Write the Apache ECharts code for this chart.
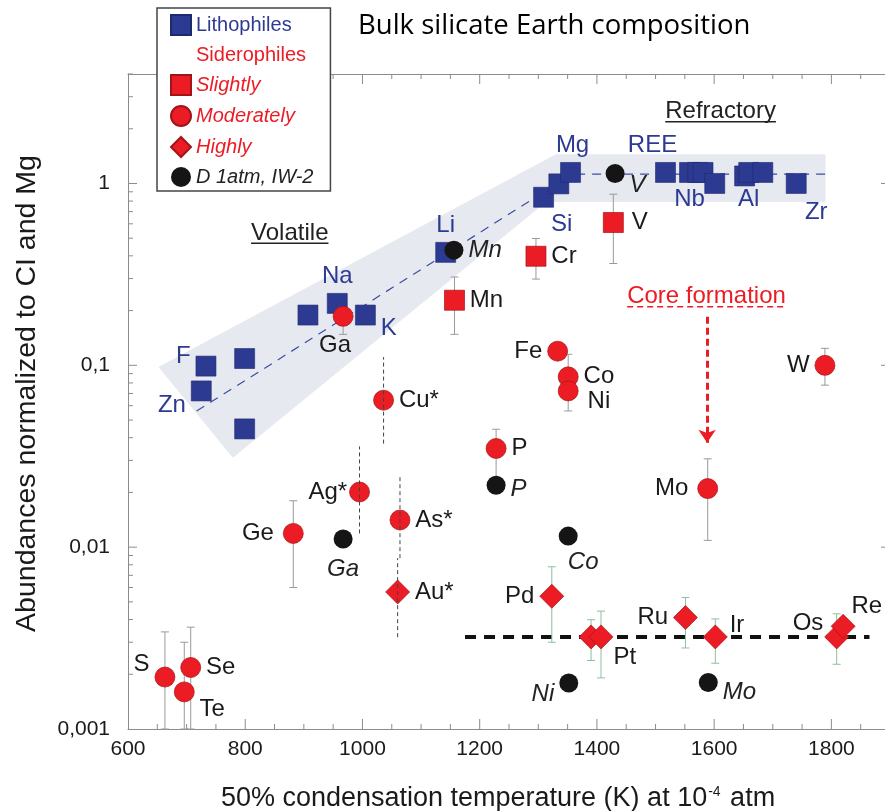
<!DOCTYPE html>
<html><head><meta charset="utf-8">
<script src="https://cdn.jsdelivr.net/npm/echarts@6/dist/echarts.min.js"></script>
<style>html,body{margin:0;padding:0;background:#fff}#c{width:885px;height:811px}</style>
</head><body><div id="c"></div>
<script>
// ---------------- DATA ----------------
const xTickValues = [600, 800, 1000, 1200, 1400, 1600, 1800];
const xTickLabels = ['600', '800', '1000', '1200', '1400', '1600', '1800'];
const yTickLabels = ['0,001', '0,01', '0,1', '1'];

const lithoNames = ['F','Zn','','','','Na','K','Li','Si','','Mg','REE','Nb','','','','','Al','','Zr'];
const lithoT  = [733, 725, 799, 799, 907, 957, 1005, 1142, 1309, 1335, 1355, 1517, 1558, 1572, 1581, 1601, 1652, 1659, 1683, 1740];
const lithoAb = [0.099, 0.0723, 0.109, 0.0447, 0.189, 0.219, 0.189, 0.418, 0.84, 0.995, 1.15, 1.15, 1.15, 1.15, 1.15, 1.0, 1.10, 1.15, 1.15, 1.0];

const slightNames = ['Mn','Cr','V'];
const slightT  = [1157, 1296, 1428];
const slightAb = [0.228, 0.398, 0.61];
const slightLo = [0.148, 0.298, 0.363];
const slightHi = [0.306, 0.498, 0.873];

const modNames = ['S','Te','Se','Ge','Ga','Ag*','Cu*','As*','P','Fe','Co','Ni','Mo','W'];
const modT  = [663, 696, 707, 882, 967, 995, 1036, 1064, 1228, 1333, 1351, 1351, 1589, 1789];
const modAb = [0.00193, 0.0016, 0.00218, 0.0119, 0.186, 0.0201, 0.0643, 0.0141, 0.0349, 0.1196, 0.0864, 0.0723, 0.021, 0.1];
const modLo = [0.001, 0.001, 0.001, 0.006, 0.148, null, null, null, 0.022, null, 0.0561, null, 0.0109, 0.0778];
const modHi = [0.00342, 0.003, 0.00363, 0.018, 0.19, null, null, null, 0.0445, null, 0.115, null, 0.0306, 0.124];

const highNames = ['Au*','Pd','','Pt','Ru','Ir','Os','Re'];
const highT  = [1060, 1323, 1390, 1407, 1551, 1602, 1809, 1820];
const highAb = [0.00567, 0.00537, 0.00321, 0.00321, 0.0041, 0.00321, 0.00321, 0.00367];
const highLo = [null, 0.003, 0.00238, 0.00191, 0.00279, 0.0023, 0.00227, null];
const highHi = [null, 0.0078, 0.00399, 0.00445, 0.00529, 0.00403, 0.0043, null];

const dNames = ['Mn','V','Ga','P','Co','Ni','Mo'];
const dT  = [1156, 1431, 967, 1228, 1351, 1352, 1590];
const dAb = [0.43, 1.135, 0.0111, 0.0219, 0.0115, 0.00179, 0.0018];

// dashed ranges of starred elements (Cu*, Ag*, As*, Au*)
const starT  = [1036, 995, 1064, 1060];
const starLo = [0.0371, 0.0119, 0.0087, 0.0032];
const starHi = [0.111, 0.0358, 0.0245, 0.0087];

// trend lines and band
const volTrendT  = [717, 1358, 1790];
const volTrendAb = [0.056, 1.125, 1.125];
const hseT  = [1175, 1865];
const hseAb = [0.00321, 0.00321];
const bandT  = [652, 779, 1313, 1790, 1790, 1330];
const bandAb = [0.098, 0.031, 0.79, 0.79, 1.45, 1.45];
const coreT  = [1588, 1588];
const coreAb = [0.185, 0.0375];

// ---------------- STYLE ----------------
const FONT = '"Liberation Sans", Arial, sans-serif';
const BLUE = '#2d3a92', RED = '#ec1c24', BLACK = '#151515', TXT = '#1a1a1a', AX = '#8c8c8c';
const X_MIN = 600, X_MAX = 1900, Y_MIN = 0.001, Y_MAX = 4;

const lithoPlace = {F:['left',[0,-10]], Zn:['left',[0,14]], Na:['top',[0,0]], K:['right',[0,13]], Li:['top',[0,0]],
  Si:['bottom',[18,0]], Mg:['top',[2,0]], REE:['top',[-13,0]], Nb:['bottom',[0,0]], Al:['bottom',[0,0]], Zr:['bottom',[20,2]]};
const slightPlace = {Mn:['right',[0,0]], Cr:['right',[0,0]], V:['right',[3,0]]};
const modPlace = {S:['left',[0,-13]], Te:['right',[0,17]], Se:['right',[0,0]], Ge:['left',[-4,0]], Ga:['bottom',[-8,2]],
  'Ag*':['left',[3,0]], 'Cu*':['right',[0,0]], 'As*':['right',[0,0]], P:['right',[0,0]], Fe:['left',[0,0]],
  Co:['right',[0,0]], Ni:['right',[4,10]], Mo:['left',[-4,0]], W:['left',[0,0]]};
const highPlace = {'Au*':['right',[0,0]], Pd:['left',[0,0]], Pt:['right',[-5,20]], Ru:['left',[0,0]],
  Ir:['right',[-3,-12]], Os:['left',[4,-14]], Re:['right',[-9,-20]]};
const dPlace = {Mn:['right',[0,0]], V:['right',[0,12]], Ga:['bottom',[0,4]], P:['right',[0,4]], Co:['bottom',[15,0]],
  Ni:['left',[0,11]], Mo:['right',[0,10]]};

function mkItems(names, T, Ab, place) {
  return T.map((t, i) => {
    const n = names[i];
    const it = {name: n, value: [t, Ab[i]]};
    if (n && place[n]) it.label = {show: true, position: place[n][0], offset: place[n][1]};
    return it;
  });
}
function mkErr(T, lo, hi) {
  const out = [];
  T.forEach((t, i) => { if (lo[i] != null) out.push([t, lo[i], hi[i]]); });
  return out;
}
function errRender(color) {
  return function (params, api) {
    const x = api.value(0);
    const p1 = api.coord([x, api.value(1)]), p2 = api.coord([x, api.value(2)]);
    const w = 4, st = {stroke: color, lineWidth: 1};
    return {type: 'group', children: [
      {type: 'line', shape: {x1: p1[0], y1: p1[1], x2: p2[0], y2: p2[1]}, style: st},
      {type: 'line', shape: {x1: p1[0]-w, y1: p1[1], x2: p1[0]+w, y2: p1[1]}, style: st},
      {type: 'line', shape: {x1: p2[0]-w, y1: p2[1], x2: p2[0]+w, y2: p2[1]}, style: st}
    ]};
  };
}
// axis tick marks (inward), incl. log minor ticks
const tickData = [];
for (let v = 650; v < 1900; v += 50) {
  const len = (v % 200 === 0) ? 10 : 5;
  tickData.push([v, Y_MIN, 0, len]); tickData.push([v, Y_MAX, 1, len]);
}
for (let e = -3; e <= 0; e++) {
  for (let m = 1; m <= 9; m++) {
    const v = m * Math.pow(10, e);
    if (v > Y_MAX || (e === -3 && m === 1)) continue;
    const len = m === 1 ? 9 : 5;
    tickData.push([X_MIN, v, 2, len]); tickData.push([X_MAX, v, 3, len]);
  }
}
const mctx = document.createElement('canvas').getContext('2d');
function textW(t, font) { mctx.font = font; return mctx.measureText(t).width; }
const annots = [
  {t: 876, v: 0.533, text: 'Volatile', color: '#222', dash: null},
  {t: 1611, v: 2.48, text: 'Refractory', color: '#222', dash: null},
  {t: 1587, v: 0.238, text: 'Core formation', color: RED, dash: [6, 4]}
];

const labelBase = {show: false, formatter: '{b}', fontSize: 24, fontFamily: FONT, color: TXT, distance: 5};

const option = {
  backgroundColor: '#fff',
  animation: false,
  title: {text: 'Bulk silicate Earth composition', left: 353, top: 7,
    textStyle: {fontFamily: '"Open Sans", sans-serif', fontSize: 27.5, fontWeight: 'normal', color: '#000'}},
  legend: {
    left: 157, top: 8, orient: 'vertical', selectedMode: false, z: 20,
    padding: [6, 17, 4, 13], itemGap: 9, itemWidth: 20, itemHeight: 20,
    backgroundColor: '#fff', borderColor: '#444', borderWidth: 1.5,
    textStyle: {fontSize: 20, fontFamily: FONT},
    data: [
      {name: 'Lithophiles', icon: 'rect', textStyle: {color: BLUE}},
      {name: 'Siderophiles', icon: 'rect', textStyle: {color: RED}},
      {name: 'Slightly', icon: 'rect', textStyle: {color: RED, fontStyle: 'italic'}},
      {name: 'Moderately', icon: 'circle', textStyle: {color: RED, fontStyle: 'italic'}},
      {name: 'Highly', icon: 'diamond', textStyle: {color: RED, fontStyle: 'italic'}},
      {name: 'D 1atm, IW-2', icon: 'circle', textStyle: {color: '#222', fontStyle: 'italic'}}
    ]
  },
  grid: {left: 128, right: -5, top: 74, bottom: 82, containLabel: false, outerBoundsMode: 'none'},
  xAxis: [{
    type: 'value', min: X_MIN, max: X_MAX, interval: 200, position: 'bottom',
    axisLine: {show: true, lineStyle: {color: AX, width: 1}}, axisTick: {show: false}, splitLine: {show: false},
    axisLabel: {margin: 10, fontSize: 21, fontFamily: FONT, color: TXT, showMaxLabel: false,
      formatter: v => { const i = xTickValues.indexOf(v); return i >= 0 ? xTickLabels[i] : ''; }},
    name: '50% condensation temperature (K) at 10{sup|-4} atm', nameLocation: 'middle', nameGap: 56,
    nameTextStyle: {fontSize: 27, fontFamily: FONT, color: TXT, padding: [0, 22, 0, 0],
      rich: {sup: {fontSize: 14, fontFamily: FONT, color: TXT, verticalAlign: 'top', padding: [0, 2, 12, 1]}}}
  }, {
    type: 'value', min: X_MIN, max: X_MAX, position: 'top',
    axisLine: {show: true, lineStyle: {color: AX, width: 1}}, axisTick: {show: false}, axisLabel: {show: false}, splitLine: {show: false}
  }],
  yAxis: [{
    type: 'log', logBase: 10, min: Y_MIN, max: Y_MAX,
    axisLine: {show: true, lineStyle: {color: AX, width: 1}}, axisTick: {show: false}, splitLine: {show: false}, minorTick: {show: false},
    axisLabel: {margin: 18, fontSize: 21, fontFamily: FONT, color: TXT, showMaxLabel: false,
      formatter: v => { const l = Math.log10(v), e = Math.round(l); if (Math.abs(l - e) > 1e-6 || e < -3 || e > 0) return ''; return yTickLabels[e + 3]; }},
    name: 'Abundances normalized to CI and Mg', nameLocation: 'middle', nameGap: 86, nameRotate: 90,
    nameTextStyle: {fontSize: 28.5, fontFamily: FONT, color: TXT, padding: [0, 0, 0, 16]}
  }],
  series: [
    {type: 'custom', name: 'band', silent: true, z: 1, coordinateSystem: 'cartesian2d',
      data: bandT.map((t, i) => [t, bandAb[i]]),
      renderItem: (params, api) => {
        if (params.dataIndex !== 0) return null;
        const pts = bandT.map((t, i) => api.coord([t, bandAb[i]]));
        return {type: 'polygon', shape: {points: pts}, style: {fill: '#e7e9f1'}};
      }},
    {type: 'line', name: 'volTrend', silent: true, z: 2, showSymbol: false, symbol: 'none',
      data: volTrendT.map((t, i) => [t, volTrendAb[i]]),
      lineStyle: {color: '#3e4ca3', width: 1.2, type: [9, 7]}},
    {type: 'line', name: 'hse', silent: true, z: 2, showSymbol: false, symbol: 'none',
      data: hseT.map((t, i) => [t, hseAb[i]]),
      lineStyle: {color: '#111', width: 4, type: [11, 8]}},
    {type: 'custom', name: 'errSlight', silent: true, z: 3, data: mkErr(slightT, slightLo, slightHi), renderItem: errRender('#9a9a9a'), encode: {x: 0, y: [1, 2]}},
    {type: 'custom', name: 'errMod', silent: true, z: 3, data: mkErr(modT, modLo, modHi), renderItem: errRender('#9a9a9a'), encode: {x: 0, y: [1, 2]}},
    {type: 'custom', name: 'errHigh', silent: true, z: 3, data: mkErr(highT, highLo, highHi), renderItem: errRender('#8cbf9c'), encode: {x: 0, y: [1, 2]}},
    {type: 'scatter', name: 'Lithophiles', z: 5, symbol: 'rect', symbolSize: 20,
      itemStyle: {color: BLUE, borderColor: '#1f2a6e', borderWidth: 0.6, opacity: 1},
      label: Object.assign({}, labelBase, {color: BLUE}),
      data: mkItems(lithoNames, lithoT, lithoAb, lithoPlace)},
    {type: 'scatter', name: 'Siderophiles', data: [], itemStyle: {color: 'rgba(0,0,0,0)'}},
    {type: 'scatter', name: 'Slightly', z: 5, symbol: 'rect', symbolSize: 20,
      itemStyle: {color: RED, borderColor: '#a3141a', borderWidth: 0.7, opacity: 1},
      label: labelBase, data: mkItems(slightNames, slightT, slightAb, slightPlace)},
    {type: 'scatter', name: 'Moderately', z: 5, symbol: 'circle', symbolSize: 20,
      itemStyle: {color: RED, borderColor: '#a3141a', borderWidth: 0.7, opacity: 1},
      label: labelBase, data: mkItems(modNames, modT, modAb, modPlace)},
    {type: 'scatter', name: 'Highly', z: 5, symbol: 'diamond', symbolSize: 24,
      itemStyle: {color: RED, borderColor: '#a3141a', borderWidth: 0.7, opacity: 1},
      label: labelBase, data: mkItems(highNames, highT, highAb, highPlace)},
    {type: 'scatter', name: 'D 1atm, IW-2', z: 5, symbol: 'circle', symbolSize: 19,
      itemStyle: {color: BLACK, opacity: 1},
      label: Object.assign({}, labelBase, {fontStyle: 'italic', color: '#222'}),
      data: mkItems(dNames, dT, dAb, dPlace)},
    {type: 'custom', name: 'starred', silent: true, z: 6,
      data: starT.map((t, i) => [t, starLo[i], starHi[i]]), encode: {x: 0, y: [1, 2]},
      renderItem: (params, api) => {
        const x = api.value(0); const p1 = api.coord([x, api.value(1)]), p2 = api.coord([x, api.value(2)]);
        return {type: 'line', shape: {x1: p1[0], y1: p1[1], x2: p2[0], y2: p2[1]}, style: {stroke: '#444', lineWidth: 1, lineDash: [4, 3]}};
      }},
    {type: 'lines', name: 'core', coordinateSystem: 'cartesian2d', silent: true, z: 6,
      symbol: ['none', 'arrow'], symbolSize: 13,
      lineStyle: {color: RED, width: 3, type: [7, 4], opacity: 1},
      data: [{coords: coreT.map((t, i) => [t, coreAb[i]])}]},
    {type: 'custom', name: 'annot', silent: true, z: 7,
      data: annots.map(a => [a.t, a.v]),
      renderItem: (params, api) => {
        const a = annots[params.dataIndex];
        const p = api.coord([api.value(0), api.value(1)]);
        const font = '24px ' + FONT;
        const w = textW(a.text, font);
        return {type: 'group', children: [
          {type: 'text', x: p[0], y: p[1], style: {text: a.text, fill: a.color, font: font, align: 'center', verticalAlign: 'middle'}},
          {type: 'line', shape: {x1: p[0] - w / 2, y1: p[1] + 10, x2: p[0] + w / 2, y2: p[1] + 10},
            style: {stroke: a.color, lineWidth: 1.5, lineDash: a.dash}}
        ]};
      }},
    {type: 'custom', name: 'ticks', silent: true, z: 8,
      data: tickData,
      renderItem: (params, api) => {
        const p = api.coord([api.value(0), api.value(1)]);
        const k = api.value(2), len = api.value(3);
        let s;
        if (k === 0) s = {x1: p[0], y1: p[1], x2: p[0], y2: p[1] - len};
        else if (k === 1) s = {x1: p[0], y1: p[1], x2: p[0], y2: p[1] + len};
        else if (k === 2) s = {x1: p[0], y1: p[1], x2: p[0] + len, y2: p[1]};
        else s = {x1: p[0], y1: p[1], x2: p[0] - len, y2: p[1]};
        return {type: 'line', shape: s, style: {stroke: AX, lineWidth: 1}};
      }}
  ]
};
const chart = echarts.init(document.getElementById('c'));
chart.setOption(option);
</script>
</body></html>
